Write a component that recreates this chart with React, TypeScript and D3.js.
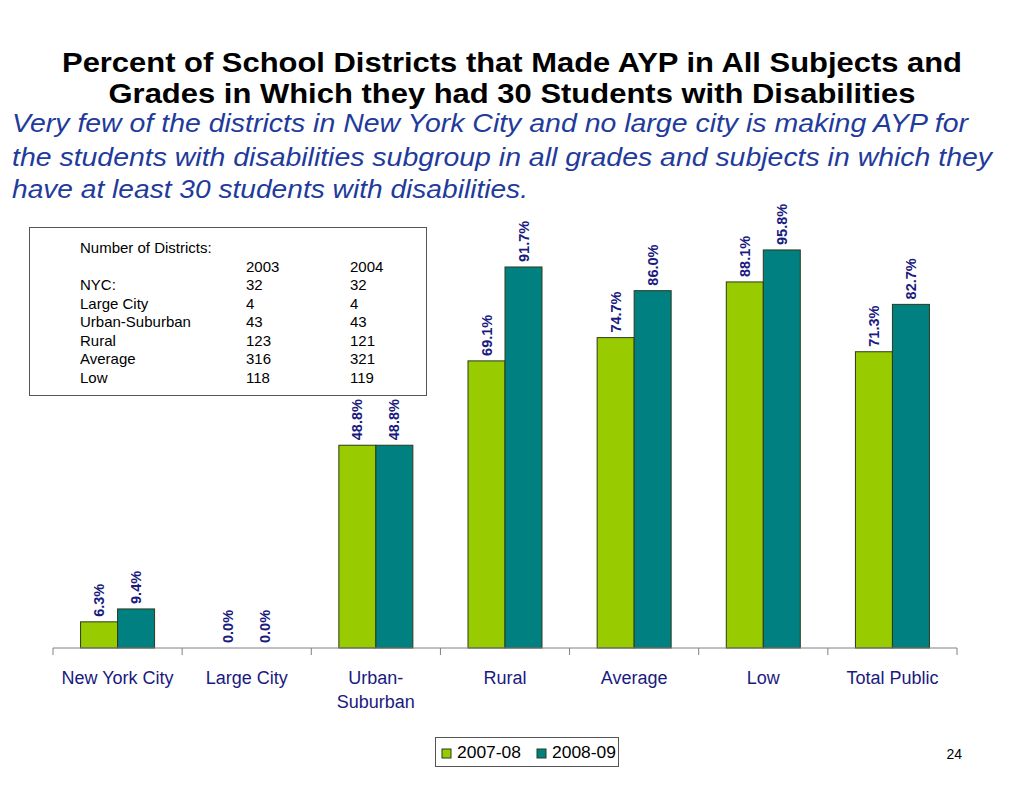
import * as d3 from 'd3';
import { useEffect, useRef } from 'react';

const categories = ['New York City', 'Large City', 'Urban-Suburban', 'Rural', 'Average', 'Low', 'Total Public'];
const categoryLines = [['New York City'], ['Large City'], ['Urban-', 'Suburban'], ['Rural'], ['Average'], ['Low'], ['Total Public']];
const seriesNames = ['2007-08', '2008-09'];
const values0708 = [6.3, 0.0, 48.8, 69.1, 74.7, 88.1, 71.3];
const values0809 = [9.4, 0.0, 48.8, 91.7, 86.0, 95.8, 82.7];
const seriesColors = ['#99cc00', '#008080'];

const tableYears = ['2003', '2004'];
const tableRows = ['NYC:', 'Large City', 'Urban-Suburban', 'Rural', 'Average', 'Low'];
const districts2003 = [32, 4, 43, 123, 316, 118];
const districts2004 = [32, 4, 43, 121, 321, 119];

const titleLines = [
  'Percent of School Districts that Made AYP in All Subjects and',
  'Grades in Which they had 30 Students with Disabilities',
];
const titleWidths = [900, 807];
const subtitleLines = [
  'Very few of the districts in New York City and no large city is making AYP for',
  'the students with disabilities subgroup in all grades and subjects in which they',
  'have at least 30 students with disabilities.',
];
const subtitleWidths = [956, 980, 516];

const FONT = '"Liberation Sans", Arial, sans-serif';
const NAVY = '#1a1a80';

export default function App() {
  const svgRef = useRef<SVGSVGElement | null>(null);

  useEffect(() => {
    if (!svgRef.current) return;
    const width = 1024;
    const height = 791;
    const baseY = 648;

    const svg = d3.select(svgRef.current)
      .html('')
      .attr('width', width)
      .attr('height', height)
      .style('font-family', FONT);

    svg.append('rect').attr('width', width).attr('height', height).attr('fill', '#fff');

    // Title
    svg.append('g').selectAll('text')
      .data(titleLines)
      .enter().append('text')
      .attr('x', 512)
      .attr('y', (d, i) => 72 + i * 31)
      .attr('text-anchor', 'middle')
      .attr('font-weight', 'bold')
      .attr('font-size', 28)
      .attr('textLength', (d, i) => titleWidths[i])
      .attr('lengthAdjust', 'spacingAndGlyphs')
      .attr('fill', '#000')
      .text(d => d);

    // Subtitle
    svg.append('g').selectAll('text')
      .data(subtitleLines)
      .enter().append('text')
      .attr('x', 12)
      .attr('y', (d, i) => [132, 166, 198][i])
      .attr('font-style', 'italic')
      .attr('font-size', 26.5)
      .attr('textLength', (d, i) => subtitleWidths[i])
      .attr('lengthAdjust', 'spacingAndGlyphs')
      .attr('fill', '#1f3b9b')
      .text(d => d);

    const x0 = d3.scaleBand<string>()
      .domain(categories)
      .range([53, 957]);

    const x1 = d3.scaleBand<string>()
      .domain(seriesNames)
      .range([0, 74]);

    const groupOffset = (x0.bandwidth() - 74) / 2;

    const y = d3.scaleLinear()
      .domain([0, 100])
      .range([baseY, baseY - 415.5]);

    const seriesValues = [values0708, values0809];

    const groups = svg.append('g');
    categories.forEach((c, ci) => {
      seriesNames.forEach((s, si) => {
        const v = seriesValues[si][ci];
        const bx = (x0(c) ?? 0) + groupOffset + (x1(s) ?? 0);
        if (v > 0) {
          groups.append('rect')
            .attr('x', bx)
            .attr('y', y(v))
            .attr('width', x1.bandwidth())
            .attr('height', baseY - y(v))
            .attr('fill', seriesColors[si])
            .attr('stroke', '#2a3a1a')
            .attr('stroke-width', 1);
        }
        const cx = bx + x1.bandwidth() / 2 + 5;
        const ty = y(v) - 5;
        groups.append('text')
          .attr('transform', `translate(${cx},${ty}) rotate(-90)`)
          .attr('font-weight', 'bold')
          .attr('font-size', 14.5)
          .attr('fill', NAVY)
          .text(`${v.toFixed(1)}%`);
      });
    });

    // Axis
    const axis = svg.append('g');
    axis.append('line')
      .attr('x1', 53).attr('x2', 957)
      .attr('y1', baseY).attr('y2', baseY)
      .attr('stroke', '#808080');
    const tickXs = categories.map(c => x0(c) ?? 0).concat([957]);
    axis.selectAll('.tick')
      .data(tickXs)
      .enter().append('line')
      .attr('x1', d => d).attr('x2', d => d)
      .attr('y1', baseY).attr('y2', baseY + 7)
      .attr('stroke', '#808080');

    categories.forEach((c, ci) => {
      categoryLines[ci].forEach((line, li) => {
        axis.append('text')
          .attr('x', (x0(c) ?? 0) + x0.bandwidth() / 2)
          .attr('y', 684 + li * 24)
          .attr('text-anchor', 'middle')
          .attr('font-size', 18)
          .attr('fill', NAVY)
          .text(line);
      });
    });

    // Districts table
    const table = svg.append('g');
    table.append('rect')
      .attr('x', 29.5).attr('y', 227.5)
      .attr('width', 397).attr('height', 168)
      .attr('fill', '#fff')
      .attr('stroke', '#555')
      .attr('stroke-width', 1);
    table.append('text')
      .attr('x', 80).attr('y', 253)
      .attr('font-size', 15)
      .text('Number of Districts:');
    const colX = [246, 350];
    tableYears.forEach((yr, i) => {
      table.append('text')
        .attr('x', colX[i]).attr('y', 272)
        .attr('font-size', 15)
        .text(yr);
    });
    tableRows.forEach((r, i) => {
      const ry = 290 + i * 18.6;
      table.append('text').attr('x', 80).attr('y', ry).attr('font-size', 15).text(r);
      table.append('text').attr('x', colX[0]).attr('y', ry).attr('font-size', 15).text(districts2003[i]);
      table.append('text').attr('x', colX[1]).attr('y', ry).attr('font-size', 15).text(districts2004[i]);
    });

    // Legend
    const legend = svg.append('g');
    legend.append('rect')
      .attr('x', 435.5).attr('y', 737.5)
      .attr('width', 183).attr('height', 29)
      .attr('fill', '#fff')
      .attr('stroke', '#555');
    const legX = [442, 537];
    seriesNames.forEach((s, i) => {
      legend.append('rect')
        .attr('x', legX[i]).attr('y', 749)
        .attr('width', 9).attr('height', 9)
        .attr('fill', seriesColors[i])
        .attr('stroke', '#2a3a1a');
      legend.append('text')
        .attr('x', legX[i] + 15).attr('y', 758)
        .attr('font-size', 16.5)
        .attr('textLength', 64)
        .attr('lengthAdjust', 'spacingAndGlyphs')
        .attr('fill', '#000')
        .text(s);
    });

    // Page number
    svg.append('text')
      .attr('x', 962).attr('y', 759)
      .attr('text-anchor', 'end')
      .attr('font-size', 14)
      .text('24');
  }, []);

  return <svg ref={svgRef} style={{ display: 'block', margin: '-8px' }} />;
}
